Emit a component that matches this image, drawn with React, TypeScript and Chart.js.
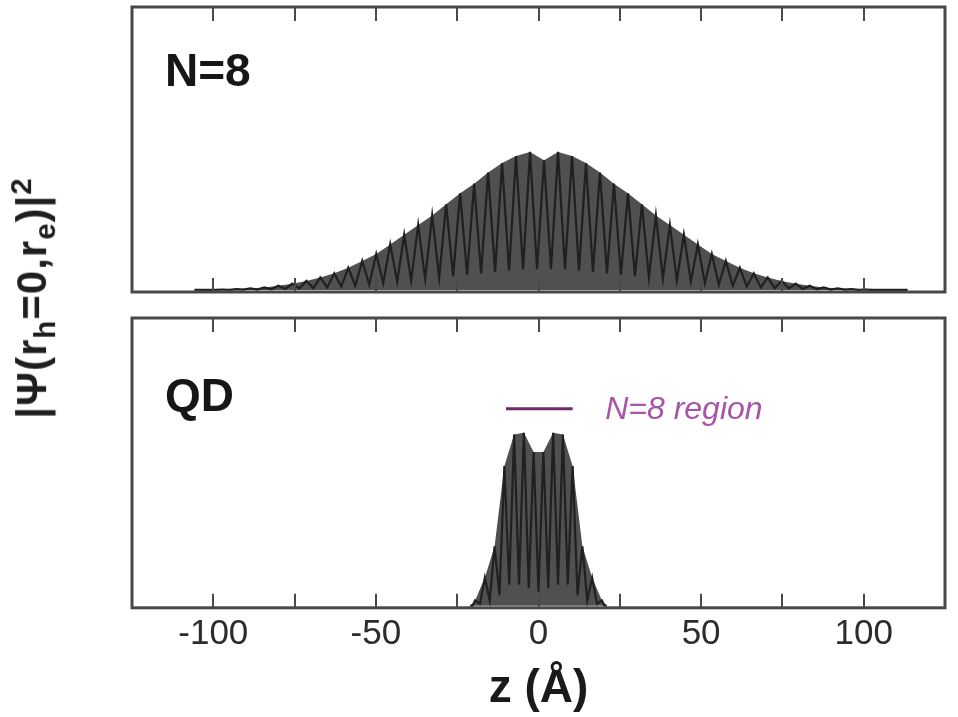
import React, { useEffect, useRef } from 'react';
import { Chart, registerables } from 'chart.js';

Chart.register(...registerables);

// ---- Data (z in Å, |Ψ|² in arbitrary units) ----
// N=8 panel: positions of oscillation maxima, their heights, and the minima between them
const n8PeakZ = [
  -105.8, -101.5, -97.2, -92.9, -88.6, -84.3, -80.0, -75.7, -71.4, -67.1,
  -62.8, -58.5, -54.2, -49.9, -45.6, -41.3, -37.0, -32.7, -28.4, -24.1,
  -19.8, -15.5, -11.2, -6.9, -2.6, 1.7, 6.0, 10.3, 14.6, 18.9,
  23.2, 27.5, 31.8, 36.1, 40.4, 44.7, 49.0, 53.3, 57.6, 61.9,
  66.2, 70.5, 74.8, 79.1, 83.4, 87.7, 92.0, 96.3, 100.6, 104.9,
  109.2, 113.5,
];
const n8Peak = [
  0, 0.001, 0.003, 0.006, 0.011, 0.018, 0.03, 0.045, 0.065, 0.09,
  0.12, 0.16, 0.21, 0.26, 0.33, 0.40, 0.47, 0.54, 0.62, 0.70,
  0.77, 0.85, 0.92, 0.97, 1.0, 0.94, 1.0, 0.97, 0.92, 0.85,
  0.77, 0.70, 0.62, 0.54, 0.47, 0.40, 0.33, 0.26, 0.21, 0.16,
  0.12, 0.09, 0.065, 0.045, 0.03, 0.018, 0.011, 0.006, 0.003, 0.001,
  0, 0,
];
const n8Dip = [
  0, 0, 0.001, 0.002, 0.003, 0.005, 0.007, 0.01, 0.013, 0.018,
  0.024, 0.03, 0.04, 0.05, 0.06, 0.07, 0.08, 0.09, 0.10, 0.11,
  0.12, 0.13, 0.14, 0.15, 0.15, 0.15, 0.15, 0.14, 0.13, 0.12,
  0.11, 0.10, 0.09, 0.08, 0.07, 0.06, 0.05, 0.04, 0.03, 0.024,
  0.018, 0.013, 0.01, 0.007, 0.005, 0.003, 0.002, 0.001, 0, 0,
  0,
];

// QD panel
const qdPeakZ = [-21, -19.5, -16.5, -13.5, -10.5, -7.5, -4.5, -1.5, 1.5, 4.5, 7.5, 10.5, 13.5, 16.5, 19.5, 21];
const qdPeak = [0, 0.03, 0.16, 0.34, 0.80, 0.98, 0.99, 0.88, 0.88, 0.99, 0.98, 0.80, 0.34, 0.16, 0.03, 0];
const qdDip = [0, 0.01, 0.03, 0.06, 0.12, 0.12, 0.10, 0.08, 0.10, 0.12, 0.12, 0.06, 0.03, 0.01, 0];

// "N=8 region" marker
const regionZ = [-10, 10.5];
const regionLevel = 1.127;
const regionLabel = 'N=8 region';

// Axis
const xMin = -125;
const xMax = 125;
const xTickMarks = [-100, -75, -50, -25, 0, 25, 50, 75, 100];
const xTickLabels = [-100, -50, 0, 50, 100];
const panelLabels = ['N=8', 'QD'];

const FONT = '"Liberation Sans", Arial, Helvetica, sans-serif';

function zigzag(zs: number[], peaks: number[], dips: number[]) {
  const pts: { x: number; y: number }[] = [];
  for (let i = 0; i < zs.length; i++) {
    pts.push({ x: zs[i], y: peaks[i] });
    if (i < dips.length && i + 1 < zs.length) {
      pts.push({ x: (zs[i] + zs[i + 1]) / 2, y: dips[i] });
    }
  }
  return pts;
}

function framePlugin(label: string, dx: number, dy: number, extra?: (chart: any) => void) {
  return {
    id: 'frame_' + label,
    afterDatasetsDraw(chart: any) {
      const { ctx, chartArea: a, scales } = chart;
      const xs = scales.x;
      ctx.save();
      ctx.strokeStyle = '#4a4a4a';
      ctx.lineWidth = 2;
      for (const t of xTickMarks) {
        const px = Math.round(xs.getPixelForValue(t));
        ctx.beginPath();
        ctx.moveTo(px, a.top);
        ctx.lineTo(px, a.top + 14);
        ctx.moveTo(px, a.bottom);
        ctx.lineTo(px, a.bottom - 14);
        ctx.stroke();
      }
      ctx.lineWidth = 3;
      ctx.strokeStyle = '#484848';
      ctx.strokeRect(a.left, a.top, a.right - a.left, a.bottom - a.top);
      ctx.fillStyle = '#161616';
      ctx.font = 'bold 46px ' + FONT;
      ctx.textBaseline = 'alphabetic';
      ctx.textAlign = 'left';
      ctx.fillText(label, a.left + dx, a.top + dy);
      if (extra) extra(chart);
      ctx.restore();
    },
  };
}

export default function App() {
  const topRef = useRef<HTMLCanvasElement>(null);
  const botRef = useRef<HTMLCanvasElement>(null);

  useEffect(() => {
    const n8Pts = zigzag(n8PeakZ, n8Peak, n8Dip);
    const n8Env = n8PeakZ.map((z, i) => ({ x: z, y: n8Peak[i] }));
    const qdPts = zigzag(qdPeakZ, qdPeak, qdDip);
    const qdEnv = qdPeakZ.map((z, i) => ({ x: z, y: qdPeak[i] }));
    const regionPts = regionZ.map((z) => ({ x: z, y: regionLevel }));

    const common: any = {
      responsive: false,
      animation: false,
      events: [],
      plugins: { legend: { display: false }, tooltip: { enabled: false } },
      elements: { point: { radius: 0 }, line: { tension: 0 } },
    };

    const top = new Chart(topRef.current!, {
      type: 'line',
      data: {
        datasets: [
          { data: n8Pts, borderColor: '#202020', borderWidth: 2.2, fill: false, pointRadius: 0 },
          { data: n8Env, borderColor: 'rgba(0,0,0,0)', borderWidth: 0, backgroundColor: '#505050', fill: 'origin', pointRadius: 0 },
        ],
      },
      options: {
        ...common,
        layout: { padding: { left: 132, right: 13, top: 7, bottom: 8 } },
        scales: {
          x: { type: 'linear', min: xMin, max: xMax, display: false },
          y: { type: 'linear', min: -0.015, max: 2.05, display: false },
        },
      },
      plugins: [framePlugin(panelLabels[0], 33, 79)],
    } as any);

    const bottom = new Chart(botRef.current!, {
      type: 'line',
      data: {
        datasets: [
          { data: regionPts, borderColor: '#6e2a66', borderWidth: 3, fill: false, pointRadius: 0 },
          { data: qdPts, borderColor: '#202020', borderWidth: 2.2, fill: false, pointRadius: 0 },
          { data: qdEnv, borderColor: 'rgba(0,0,0,0)', borderWidth: 0, backgroundColor: '#505050', fill: 'origin', pointRadius: 0 },
        ],
      },
      options: {
        ...common,
        layout: { padding: { left: 132, right: 13, top: 18, bottom: 0 } },
        scales: {
          x: {
            type: 'linear',
            min: xMin,
            max: xMax,
            display: true,
            border: { display: false },
            grid: { display: false, drawTicks: false },
            afterBuildTicks: (s: any) => {
              s.ticks = xTickLabels.map((v) => ({ value: v }));
            },
            ticks: {
              font: { family: FONT, size: 35 },
              color: '#2c2c2c',
              padding: 6,
              maxRotation: 0,
              autoSkip: false,
            },
            title: {
              display: true,
              text: 'z (Å)',
              font: { family: FONT, size: 46, weight: 'bold' },
              color: '#1a1a1a',
              padding: { top: 0, bottom: 0 },
            },
          },
          y: { type: 'linear', min: -0.012, max: 1.647, display: false },
        },
      },
      plugins: [
        framePlugin(panelLabels[1], 33, 93, (chart: any) => {
          const { ctx, scales } = chart;
          ctx.fillStyle = '#a855a8';
          ctx.font = 'italic 32px ' + FONT;
          ctx.textBaseline = 'alphabetic';
          ctx.fillText(regionLabel, scales.x.getPixelForValue(20.5), scales.y.getPixelForValue(1.07));
        }),
      ],
    } as any);

    return () => {
      top.destroy();
      bottom.destroy();
    };
  }, []);

  return (
    <div style={{ position: 'fixed', left: 0, top: 0, width: 958, height: 717, background: '#fff', overflow: 'hidden' }}>
      <canvas ref={topRef} width={958} height={300} style={{ position: 'absolute', left: 0, top: 0 }} />
      <canvas ref={botRef} width={958} height={417} style={{ position: 'absolute', left: 0, top: 300 }} />
      <div
        style={{
          position: 'absolute',
          left: 33,
          top: 298,
          transform: 'translate(-50%, -50%) rotate(-90deg)',
          font: 'bold 42px ' + FONT,
          letterSpacing: '1px',
          whiteSpace: 'nowrap',
          color: '#1e1e1e',
          lineHeight: 1,
        }}
      >
        |Ψ(r<sub style={{ fontSize: '0.7em' }}>h</sub>=0,r<sub style={{ fontSize: '0.7em' }}>e</sub>)|
        <sup style={{ fontSize: '0.7em' }}>2</sup>
      </div>
    </div>
  );
}
